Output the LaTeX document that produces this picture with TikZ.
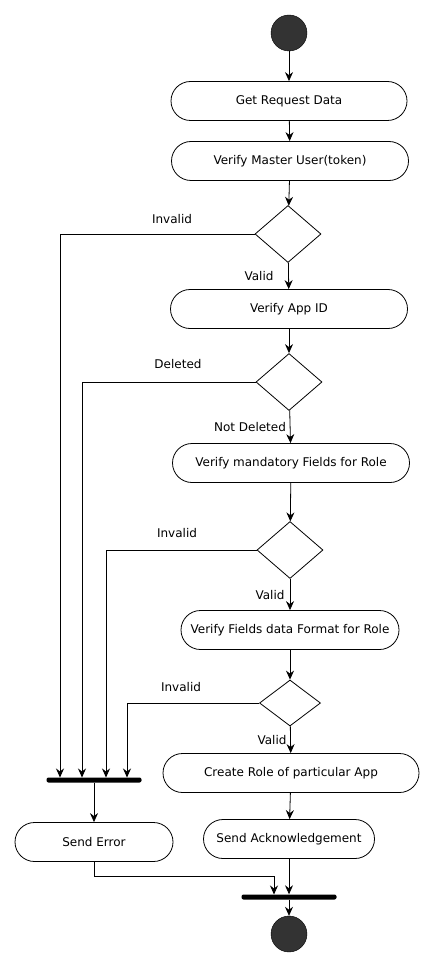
\documentclass[tikz,border=0pt]{standalone}
\usepackage{fontspec}
\setmainfont{DejaVu Sans}
\usetikzlibrary{shapes.geometric,arrows.meta}

\begin{document}
\begin{tikzpicture}[x=1pt, y=-1pt,
    font=\fontsize{12}{14}\selectfont,
    act/.style={draw, line width=0.8pt, rectangle, rounded corners=19.5pt, minimum height=39pt, inner sep=0pt},
    dec/.style={draw, line width=0.8pt, diamond, minimum width=66pt, minimum height=57pt, inner sep=0pt},
    bar/.style={fill=black, rectangle, rounded corners=2pt, minimum width=95pt, minimum height=5pt, inner sep=0pt},
    dot/.style={circle, draw, fill=black!80, minimum size=36pt, inner sep=0pt},
    flow/.style={line width=0.8pt, -{Stealth[length=9pt, width=8pt, inset=3pt]}}]
    \useasboundingbox (0,0) rectangle (434,968);

    % Draw nodes
    \node[dot] (start) at (289, 33) {};
    \node[act, minimum width=236pt] (get) at (289, 101) {Get Request Data};
    \node[act, minimum width=237pt] (master) at (290, 161) {Verify Master User(token)};
    \node[dec] (d1) at (288, 234) {};
    \node[act, minimum width=237pt] (appid) at (289, 309) {Verify App ID};
    \node[dec] (d2) at (289, 382) {};
    \node[act, minimum width=237pt] (mand) at (291, 463) {Verify mandatory Fields for Role};
    \node[dec] (d3) at (290, 550) {};
    \node[act, minimum width=218pt] (format) at (290, 630) {Verify Fields data Format for Role};
    \node[dec, minimum width=61pt, minimum height=46pt] (d4) at (290, 703) {};
    \node[act, minimum width=256pt] (create) at (291, 773) {Create Role of particular App};
    \node[act, minimum width=171pt] (ack) at (289, 839) {Send Acknowledgement};
    \node[bar] (fork) at (94, 780) {};
    \node[act, minimum width=158pt] (err) at (94, 842) {Send Error};
    \node[bar] (join) at (289, 897) {};
    \node[dot] (stop) at (289, 934) {};

    % Draw labels
    \node (l1) at (172, 219) {Invalid};
    \node (l2) at (259, 276) {Valid};
    \node (l3) at (178, 364) {Deleted};
    \node (l4) at (250, 427) {Not Deleted};
    \node (l5) at (177, 533) {Invalid};
    \node (l6) at (270, 595) {Valid};
    \node (l7) at (181, 687) {Invalid};
    \node (l8) at (272, 740) {Valid};

    % Fork inputs
    \coordinate (in1) at (60, 777.5);
    \coordinate (in2) at (82, 777.5);
    \coordinate (in3) at (106, 777.5);
    \coordinate (in4) at (127, 777.5);
    \coordinate (jin) at (274, 894.5);

    % Draw edges
    \draw[flow] (start) -- (get);
    \draw[flow] (get) -- (master);
    \draw[flow] (master) -- (d1);
    \draw[flow] (d1) -- (appid);
    \draw[flow] (appid) -- (d2);
    \draw[flow] (d2) -- (mand);
    \draw[flow] (mand) -- (d3);
    \draw[flow] (d3) -- (format);
    \draw[flow] (format) -- (d4);
    \draw[flow] (d4) -- (create);
    \draw[flow] (create) -- (ack);
    \draw[flow] (d1.west) -| (in1);
    \draw[flow] (d2.west) -| (in2);
    \draw[flow] (d3.west) -| (in3);
    \draw[flow] (d4.west) -| (in4);
    \draw[flow] (fork) -- (err);
    \draw[flow] (err.south) -- ++(0, 14) -| (jin);
    \draw[flow] (ack) -- (join);
    \draw[flow] (join) -- (stop);
\end{tikzpicture}
\end{document}
